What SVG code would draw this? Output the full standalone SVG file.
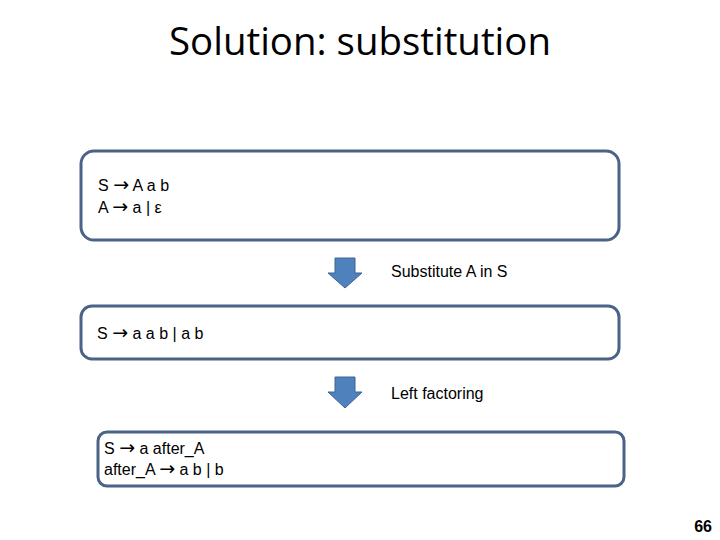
<svg xmlns="http://www.w3.org/2000/svg" width="720" height="540" viewBox="0 0 720 540">
<style>
.box{fill:#fff;stroke:#4a6386;stroke-width:3}
.t{font-family:"Liberation Sans","DejaVu Sans",sans-serif;font-size:16px;fill:#000}
.s{font-family:"DejaVu Sans",sans-serif;font-size:19px}
.arr{fill:#4f81bd;stroke:#3c6494;stroke-width:1}
</style>
<rect width="720" height="540" fill="#fff"/>
<text x="360" y="55" text-anchor="middle" font-family="'Open Sans','Liberation Sans',sans-serif" font-size="38" textLength="382" lengthAdjust="spacingAndGlyphs">Solution: substitution</text>
<g id="box1">
<rect class="box" x="81" y="151" width="538" height="89" rx="13"/>
<text class="t" x="98" y="191">S <tspan class="s">→</tspan> A a b</text>
<text class="t" x="98" y="213">A <tspan class="s">→</tspan> a | ε</text>
</g>
<g id="box2">
<rect class="box" x="81" y="306" width="538" height="53" rx="11"/>
<text class="t" x="97" y="339">S <tspan class="s">→</tspan> a a b | a b</text>
</g>
<g id="box3">
<rect class="box" x="98" y="432" width="526" height="54" rx="9"/>
<text class="t" x="104" y="454">S <tspan class="s">→</tspan> a after_A</text>
<text class="t" x="104" y="475">after_A <tspan class="s">→</tspan> a b | b</text>
</g>
<g id="connectors">
<path class="arr" d="M335,258 H355 V273 H362 L345,288 L328,273 H335 Z"/>
<path class="arr" d="M335,377 H355 V392 H362 L345,408 L328,392 H335 Z"/>
</g>
<text class="t" x="391" y="277">Substitute A in S</text>
<text class="t" x="391" y="399">Left factoring</text>
<text x="712" y="532" text-anchor="end" font-family="'Liberation Sans',Arial,sans-serif" font-weight="bold" font-size="16">66</text>
</svg>
